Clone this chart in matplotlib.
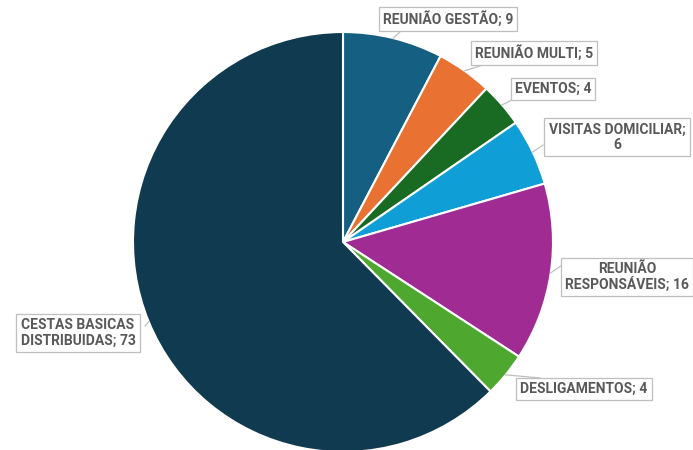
import matplotlib.pyplot as plt
import numpy as np

# Data
categories = ['REUNIÃO GESTÃO', 'REUNIÃO MULTI', 'EVENTOS', 'VISITAS DOMICILIAR',
              'REUNIÃO RESPONSÁVEIS', 'DESLIGAMENTOS', 'CESTAS BASICAS DISTRIBUIDAS']
values = [9, 5, 4, 6, 16, 4, 73]
colors = ['#156082', '#E97132', '#196B24', '#0F9ED5', '#A02B93', '#4EA72E', '#0F3A4F']

# label text as shown (line breaks where the box wraps)
label_texts = ['REUNIÃO GESTÃO; 9', 'REUNIÃO MULTI; 5', 'EVENTOS; 4',
               'VISITAS DOMICILIAR;\n6', 'REUNIÃO\nRESPONSÁVEIS; 16',
               'DESLIGAMENTOS; 4', 'CESTAS BASICAS\nDISTRIBUIDAS; 73']

# layout (pixel coords, y from top)
W, H = 693, 450
cx, cy, R = 343, 242, 210
label_pos = [(448, 19), (534, 53), (553, 89), (617, 137), (627, 277), (584, 389), (78, 333)]
attach_pos = [(402, 30), (486, 64), (512, 100), (543, 145), (562, 265), (540, 378), (145, 326)]

fig = plt.figure(figsize=(W / 100, H / 100), dpi=100)
ax = fig.add_axes([0, 0, 1, 1])

wedges, _ = ax.pie(values, colors=colors, startangle=90, counterclock=False,
                   center=(cx, H - cy), radius=R, frame=True,
                   wedgeprops=dict(edgecolor='white', linewidth=1.5))
ax.set_xlim(0, W)
ax.set_ylim(0, H)
ax.set_aspect('equal')
ax.axis('off')

total = sum(values)
start = 90.0
for i, v in enumerate(values):
    span = v / total * 360
    mid = np.radians(start - span / 2)
    start -= span
    px = cx + R * np.cos(mid)
    py = cy - R * np.sin(mid)
    ax.plot([px, attach_pos[i][0]], [H - py, H - attach_pos[i][1]],
            color='#BFBFBF', linewidth=0.9, zorder=3)
    lx, ly = label_pos[i]
    ax.text(lx, H - ly, label_texts[i], ha='center', va='center',
            fontsize=10, fontweight='bold', color='#595959',
            family=['Roboto', 'DejaVu Sans'],
            linespacing=1.1, zorder=4,
            bbox=dict(boxstyle='square,pad=0.3', facecolor='white',
                      edgecolor='#BFBFBF', linewidth=0.9))

fig.savefig('out.png', dpi=100)
